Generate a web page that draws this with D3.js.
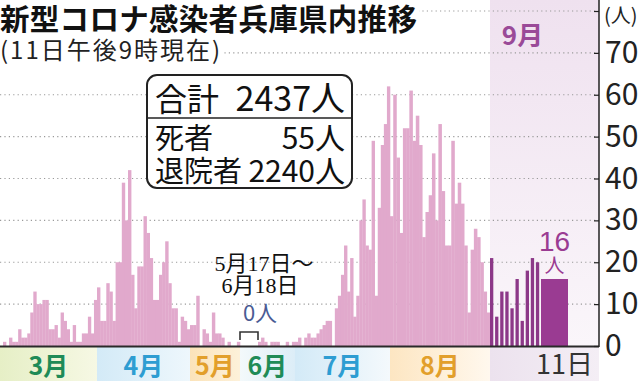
<!DOCTYPE html>
<html>
<head>
<meta charset="utf-8">
<script src="https://cdn.jsdelivr.net/npm/d3@7"></script>
<style>
  body { margin: 0; background: #fff; }
  svg { display: block; font-family: "Noto Sans CJK JP", sans-serif; }
</style>
</head>
<body>
<svg id="chart" width="640" height="381"></svg>
<script>
// daily new cases
var mar  = [1,0,2,1,1,4,2,2,3,8,13,10,10,11,11,4,4,5,2,8,6,4,1,5,1,1,3,3,7,3,11];
var apr  = [14,6,6,15,13,6,20,20,39,30,42,17,9,19,19,31,27,21,11,11,17,20,25,15,9,9,1,7,6,4];
var mayA = [5,5,12,0,4,3,1,8,3,3,2,0,1,0,0,1];          // 5/1 - 5/16
var junB = [1,2,1,0,1,1,1,0,0,1,0,1];                  // 6/19 - 6/30
var jul  = [1,2,0,2,3,2,2,3,4,5,6,6,0,9,12,17,24,13,21,7,12,30,35,24,23,49,12,33,48,53,62];
var aug  = [31,60,45,27,52,52,61,49,55,48,26,32,36,46,30,53,37,24,24,49,34,39,34,24,8,23,28,26,20,13,8];
var sep  = [21,7,13,13,9,16,6,18,21,20,16];

var yTicks = [0,10,20,30,40,50,60,70,80];
var months = ["3月","4月","5月","6月","7月","8月"];
var monthColors = ["#1f8b57","#2e9dd2","#e29f2b","#1f8b57","#2e9dd2","#e29f2b"];
// day index (0 = 3/1) where each band starts
var bandStarts = [0,31,61,77,122,153,184];
var bandFills = [["#e6efc6","#f6f8e4"],["#d3eaf7","#eef7fc"],["#fbe3b9","#fdf1da"],
                 ["#f3f9fb","#dcedf7"],["#d3eaf7","#f4f9fc"],["#fde6c2","#fff8ee"],["#ece2ee","#f4eef5"]];

var svg = d3.select("#chart");
var axisX = 599, base = 346;

// compressed x: 5/17-6/18 (all zero) squeezed, September stretched
var x = d3.scaleLinear()
  .domain([0,31,61,77,110,122,153,184,194,195])
  .range([3,97,190,240,258,295,390,490,541,568]);
var y = d3.scaleLinear().domain([0,80]).range([base, 11]);

var days = [];
function addDays(arr, start) {
  arr.forEach(function(v,i){ days.push({i: start+i, v: v}); });
}
addDays(mar,0); addDays(apr,31); addDays(mayA,61); addDays(junB,110);
addDays(jul,122); addDays(aug,153);
var sepDays = sep.map(function(v,i){ return {i: 184+i, v: v}; });

var defs = svg.append("defs");

// September background
var sg = defs.append("linearGradient").attr("id","sepbg").attr("x1",0).attr("y1",0).attr("x2",0).attr("y2",1);
sg.append("stop").attr("offset","0%").attr("stop-color","#efe1ef");
sg.append("stop").attr("offset","100%").attr("stop-color","#faf6fa");
svg.append("rect")
  .attr("x", x(184)).attr("y", 0)
  .attr("width", axisX - x(184)).attr("height", base)
  .attr("fill","url(#sepbg)");

// month bands
bandStarts.forEach(function(s,k){
  var g = defs.append("linearGradient").attr("id","band"+k);
  g.append("stop").attr("offset","0%").attr("stop-color", bandFills[k][0]);
  g.append("stop").attr("offset","100%").attr("stop-color", bandFills[k][1]);
  var x0 = k == 0 ? 0 : x(s);
  var x1 = k < bandStarts.length-1 ? x(bandStarts[k+1]) : axisX;
  svg.append("rect")
    .attr("x", x0).attr("y", base+1)
    .attr("width", x1-x0).attr("height", 381-base-1)
    .attr("fill","url(#band"+k+")");
});

// gridlines
svg.append("g").selectAll("line")
  .data(yTicks.slice(1))
  .enter().append("line")
  .attr("x1", 0).attr("x2", axisX)
  .attr("y1", d => y(d)).attr("y2", d => y(d))
  .attr("stroke","#9a9a9a")
  .attr("stroke-width",1.2)
  .attr("stroke-dasharray","1.2,3.2");

// pink daily bars
svg.append("g").selectAll("rect")
  .data(days.filter(d => d.v > 0))
  .enter().append("rect")
  .attr("x", d => x(d.i))
  .attr("width", d => x(d.i+1) - x(d.i) + 0.3)
  .attr("y", d => y(d.v))
  .attr("height", d => y(0) - y(d.v))
  .attr("fill","#e1a9cc");

// September bars
svg.append("g").selectAll("rect")
  .data(sepDays)
  .enter().append("rect")
  .attr("x", d => x(d.i))
  .attr("width", (d,i) => i == sepDays.length-1 ? x(d.i+1) - x(d.i) : 3.3)
  .attr("y", d => y(d.v))
  .attr("height", d => y(0) - y(d.v))
  .attr("fill", (d,i) => i == sepDays.length-1 ? "#9a3b92" : "#8c3888");

// baseline
svg.append("line")
  .attr("x1",0).attr("x2",axisX)
  .attr("y1",base+0.5).attr("y2",base+0.5)
  .attr("stroke","#2a2a2a").attr("stroke-width",2);

// right axis
var yAxis = d3.axisRight(y)
  .tickValues(yTicks)
  .tickSize(-5)
  .tickSizeOuter(0)
  .tickPadding(6)
  .tickFormat(d => d == 80 ? "(人)" : d);
var ag = svg.append("g")
  .attr("transform","translate(" + axisX + ",0)")
  .call(yAxis);
ag.select(".domain").remove();
ag.selectAll(".tick line").attr("stroke","#222").attr("stroke-width",1.2);
ag.selectAll(".tick text")
  .attr("fill","#222")
  .style("font-family",'"Liberation Sans Narrow","Noto Sans CJK JP",sans-serif')
  .style("font-size","30px");
ag.selectAll(".tick text").filter(d => d == 80)
  .style("font-size","20px")
  .style("font-family",'"Noto Sans CJK JP",sans-serif')
  .attr("x", 5)
  .attr("dy","0.55em");
svg.append("line")
  .attr("x1",axisX).attr("x2",axisX)
  .attr("y1",0).attr("y2",base+1)
  .attr("stroke","#222").attr("stroke-width",1.5);

// month labels
svg.append("g").selectAll("text")
  .data(months)
  .enter().append("text")
  .attr("x", (d,k) => ((k == 0 ? 0 : x(bandStarts[k])) + x(bandStarts[k+1]))/2)
  .attr("y", 375)
  .attr("text-anchor","middle")
  .attr("font-size", 25)
  .attr("font-weight", 700)
  .attr("fill", (d,k) => monthColors[k])
  .text(d => d);

svg.append("text")
  .attr("x", x(194.5) + 10)
  .attr("y", 374)
  .attr("text-anchor","middle")
  .attr("font-size", 27)
  .attr("fill","#333")
  .style("font-family",'"Liberation Sans Narrow","Noto Sans CJK JP",sans-serif')
  .text("11日");

svg.append("text")
  .attr("x", (x(184) + axisX)/2 - 22)
  .attr("y", 45)
  .attr("text-anchor","middle")
  .attr("font-size", 26)
  .attr("font-weight", 700)
  .attr("fill","#9a4a98")
  .text("9月");

// latest day label
var last = sepDays[sepDays.length-1];
var lx = (x(last.i) + x(last.i+1))/2;
svg.append("text")
  .attr("x", lx).attr("y", y(last.v) - 28)
  .attr("text-anchor","middle")
  .attr("font-size", 28)
  .attr("fill","#9a3b92")
  .style("font-family",'"Liberation Sans Narrow",sans-serif')
  .text(last.v);
svg.append("text")
  .attr("x", lx).attr("y", y(last.v) - 6)
  .attr("text-anchor","middle")
  .attr("font-size", 20)
  .attr("fill","#9a3b92")
  .text("人");

// zero period bracket
var bx0 = x(77), bx1 = x(110);
svg.append("path")
  .attr("d", "M" + bx0 + "," + (base-6) + "V" + (base-14) + "H" + bx1 + "V" + (base-6))
  .attr("fill","none").attr("stroke","#333").attr("stroke-width",1.6);
svg.append("text")
  .attr("x", (bx0+bx1)/2 + 11).attr("y", 321)
  .attr("text-anchor","middle")
  .attr("font-size", 22)
  .attr("fill","#4a5b94")
  .text("0人");
svg.append("text")
  .attr("x", 264).attr("y", 271)
  .attr("text-anchor","middle")
  .attr("font-size", 22)
  .attr("fill","#111")
  .style("font-family",'"Liberation Serif","Noto Sans CJK JP",serif')
  .text("5月17日〜");
svg.append("text")
  .attr("x", 260).attr("y", 293)
  .attr("text-anchor","middle")
  .attr("font-size", 22)
  .attr("fill","#111")
  .style("font-family",'"Liberation Serif","Noto Sans CJK JP",serif')
  .text("6月18日");

// title and subtitle on white
function boxedText(t) {
  var b = t.node().getBBox();
  svg.insert("rect", function(){ return t.node(); })
    .attr("x", b.x - 2).attr("y", b.y + 2)
    .attr("width", b.width + 4).attr("height", b.height - 4)
    .attr("fill","#fff");
}
var title = svg.append("text")
  .attr("x", 0).attr("y", 30)
  .attr("font-size", 29.5)
  .attr("font-weight", 700)
  .attr("letter-spacing", 0.3)
  .attr("fill","#111")
  .text("新型コロナ感染者兵庫県内推移");
boxedText(title);
var sub = svg.append("text")
  .attr("x", 0).attr("y", 59)
  .attr("font-size", 24)
  .attr("letter-spacing", 2)
  .attr("fill","#222")
  .text("(11日午後9時現在)");
boxedText(sub);

// summary box
var bx = 147, by = 75, bw = 205, bh = 113;
svg.append("rect")
  .attr("x", bx).attr("y", by).attr("width", bw).attr("height", bh)
  .attr("rx", 10)
  .attr("fill","#fff").attr("stroke","#222").attr("stroke-width",2);
svg.append("line")
  .attr("x1", bx).attr("x2", bx+bw).attr("y1", 118).attr("y2", 118)
  .attr("stroke","#222").attr("stroke-width",1.6);
var rows = [["合計","2437人",111,32,34],["死者","55人",149,29,30],["退院者","2240人",182,29,30]];
rows.forEach(function(r){
  svg.append("text").attr("x", bx+8).attr("y", r[2])
    .attr("font-size", r[3]).attr("fill","#111").text(r[0]);
  svg.append("text").attr("x", bx+bw-7).attr("y", r[2])
    .attr("text-anchor","end")
    .attr("font-size", r[4]).attr("fill","#111").text(r[1]);
});
</script>
</body>
</html>
